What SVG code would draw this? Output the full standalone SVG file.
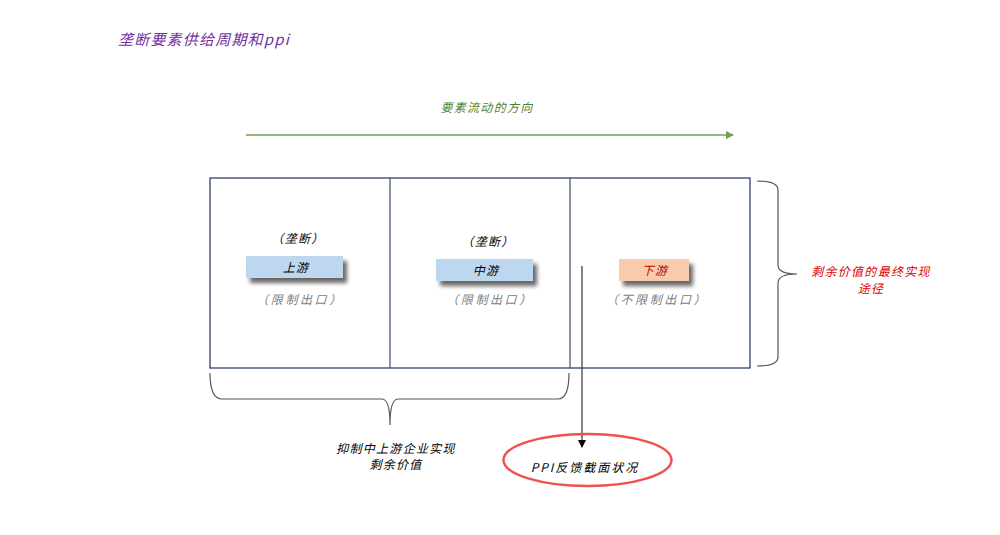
<svg xmlns="http://www.w3.org/2000/svg" width="1000" height="535" viewBox="0 0 1000 535">
<defs>
<style>
text{font-family:"Noto Sans CJK SC","Liberation Sans",sans-serif;font-style:italic;font-size:12px;text-anchor:middle;letter-spacing:1.3px}
.gray{fill:#808080;letter-spacing:2.6px}
.blk{fill:#000}
.brace{fill:none;stroke:#555;stroke-width:1.2}
</style>
<marker id="ag" markerWidth="8" markerHeight="8" refX="7" refY="4" orient="auto" markerUnits="userSpaceOnUse"><path d="M0,0 L8,4 L0,8 z" fill="#70a050"/></marker>
<marker id="ak" markerWidth="8" markerHeight="8" refX="7" refY="4" orient="auto" markerUnits="userSpaceOnUse"><path d="M0,0 L8,4 L0,8 z" fill="#000"/></marker>
<filter id="sh" x="-20%" y="-30%" width="150%" height="180%"><feGaussianBlur in="SourceAlpha" stdDeviation="2"/><feOffset dx="4" dy="5"/><feComponentTransfer><feFuncA type="linear" slope="0.6"/></feComponentTransfer><feMerge><feMergeNode/><feMergeNode in="SourceGraphic"/></feMerge></filter>
</defs>
<rect width="1000" height="535" fill="#fff"/>
<text x="118" y="45" style="text-anchor:start;font-size:15px;fill:#7030a0;letter-spacing:1.2px">垄断要素供给周期和ppi</text>
<text x="487" y="112" style="fill:#4f7f2f">要素流动的方向</text>
<g id="connectors">
<line x1="246" y1="135" x2="733" y2="135" stroke="#70a050" stroke-width="1.3" marker-end="url(#ag)"/>
<line x1="582" y1="266" x2="582" y2="447" stroke="#333" stroke-width="1.2" marker-end="url(#ak)"/>
<path class="brace" d="M757,181 Q778,181 778,190 L778,265 Q778,274 797,274 Q778,274 778,283 L778,357 Q778,366 757,366"/>
<path class="brace" d="M210,373 Q210,399 222,399 L382,399 Q390,399 390,425 Q390,399 398,399 L558,399 Q569,399 569,373"/>
</g>
<g id="chain">
<rect x="210" y="178" width="540" height="190" fill="none" stroke="#2f3f6f" stroke-width="1.3"/>
<line x1="390" y1="178" x2="390" y2="368" stroke="#4a5a7a" stroke-width="1.3"/>
<line x1="570" y1="178" x2="570" y2="368" stroke="#4a5a7a" stroke-width="1.3"/>
</g>
<g id="upstream">
<text x="298" y="243" class="blk">（垄断）</text>
<rect x="246" y="256" width="97" height="22" fill="#bdd7ee" filter="url(#sh)"/>
<text x="296" y="272" class="blk">上游</text>
<text x="300" y="304" class="gray">（限制出口）</text>
</g>
<g id="midstream">
<text x="488" y="246" class="blk">（垄断）</text>
<rect x="436" y="259" width="97" height="22" fill="#bdd7ee" filter="url(#sh)"/>
<text x="486" y="275" class="blk">中游</text>
<text x="490" y="304" class="gray">（限制出口）</text>
</g>
<g id="downstream">
<rect x="619" y="259" width="70" height="22" fill="#f8cbad" filter="url(#sh)"/>
<text x="655" y="275" style="fill:#c00000">下游</text>
<text x="657" y="304" class="gray">（不限制出口）</text>
</g>
<g id="final">
<text x="871" y="276" style="fill:#e00000">剩余价值的最终实现</text>
<text x="871" y="293" style="fill:#e00000">途径</text>
</g>
<g id="suppress">
<text x="396" y="453" class="blk">抑制中上游企业实现</text>
<text x="396" y="469" class="blk">剩余价值</text>
</g>
<g id="ppi">
<ellipse cx="587.5" cy="460" rx="84" ry="26" fill="none" stroke="#f05050" stroke-width="2.5"/>
<text x="585" y="472" class="blk" style="letter-spacing:2px">PPI反馈截面状况</text>
</g>
</svg>
